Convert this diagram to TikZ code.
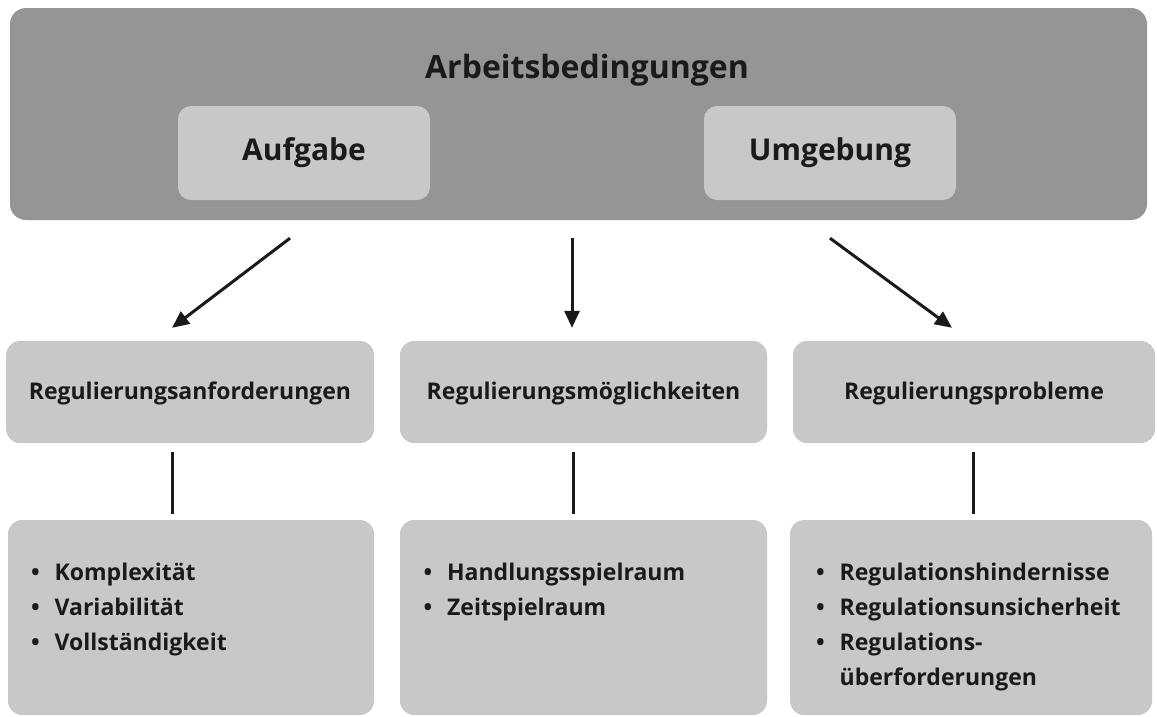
\documentclass[tikz,border=0pt]{standalone}
\usepackage{fontspec}
\setmainfont{Open Sans}
\usetikzlibrary{arrows.meta}

\definecolor{darkgrey}{HTML}{959595}
\definecolor{lightgrey}{HTML}{C8C8C8}
\definecolor{ink}{HTML}{1A1A1A}

\tikzset{
  outerbox/.style={rectangle, fill=darkgrey, rounded corners=16pt, inner sep=0pt},
  innerbox/.style={rectangle, fill=lightgrey, rounded corners=13pt, inner sep=0pt,
    minimum width=252pt, minimum height=94pt, font=\fontsize{30}{36}\selectfont\bfseries},
  headbox/.style={rectangle, fill=lightgrey, rounded corners=14pt, inner sep=0pt,
    minimum height=102pt, text height=17pt, text depth=2pt,
    font=\fontsize{23}{28}\selectfont\bfseries},
  listbox/.style={rectangle, fill=lightgrey, rounded corners=14pt, inner sep=0pt,
    minimum height=195pt, font=\fontsize{23}{35}\selectfont\bfseries},
  arr/.style={-{Triangle[length=17pt,width=15pt]}, line width=3pt, ink},
  link/.style={line width=3pt, ink}
}

\newcommand{\blist}[2]{\parbox[c][175pt][t]{#1}{\vspace*{26pt}%
  \begin{tabular}{@{}l@{\hspace{15pt}}l@{}}#2\end{tabular}\par\vfill}}

\begin{document}
\begin{tikzpicture}[x=1pt, y=-1pt, text=ink]
        \useasboundingbox (0,0) rectangle (1157,716);
        % Nodes
        \node (cond) [outerbox, minimum width=1137pt, minimum height=212pt] at (578.5,114) {};
        \node (title) [font=\fontsize{32}{38}\selectfont\bfseries] at (587,70) {Arbeitsbedingungen};
        \node (task) [innerbox] at (304,153) {Aufgabe};
        \node (env) [innerbox] at (830,153) {Umgebung};

        \node (req) [headbox, minimum width=368pt] at (190,392) {Regulierungsanforderungen};
        \node (opt) [headbox, minimum width=367pt] at (583.5,392) {Regulierungsmöglichkeiten};
        \node (prob) [headbox, minimum width=362pt] at (974,392) {Regulierungsprobleme};

        \node (reqlist) [listbox, minimum width=366pt] at (191,617.5)
          {\blist{320pt}{•&Komplexität\\ •&Variabilität\\ •&Vollständigkeit}};
        \node (optlist) [listbox, minimum width=367pt] at (583.5,617.5)
          {\blist{320pt}{•&Handlungsspielraum\\ •&Zeitspielraum}};
        \node (problist) [listbox, minimum width=362pt] at (971,617.5)
          {\blist{310pt}{•&Regulationshindernisse\\ •&Regulationsunsicherheit\\ •&Regulations-\\ &überforderungen}};

        % Arrows
        \draw[arr] ([shift={(-288.5,18)}]cond.south) -- ([shift={(-18,-13)}]req.north);
        \draw[arr] ([shift={(-6.5,18)}]cond.south) -- ([shift={(-11.5,-13)}]opt.north);
        \draw[arr] ([shift={(251.5,18)}]cond.south) -- ([shift={(-22,-13)}]prob.north);

        % Links
        \draw[link] ([shift={(-18,9)}]req.south) -- ([shift={(-19,-6)}]reqlist.north);
        \draw[link] ([shift={(-10.5,9)}]opt.south) -- ([shift={(-10.5,-6)}]optlist.north);
        \draw[link] ([shift={(-1,9)}]prob.south) -- ([shift={(2,-6)}]problist.north);
    \end{tikzpicture}
\end{document}
